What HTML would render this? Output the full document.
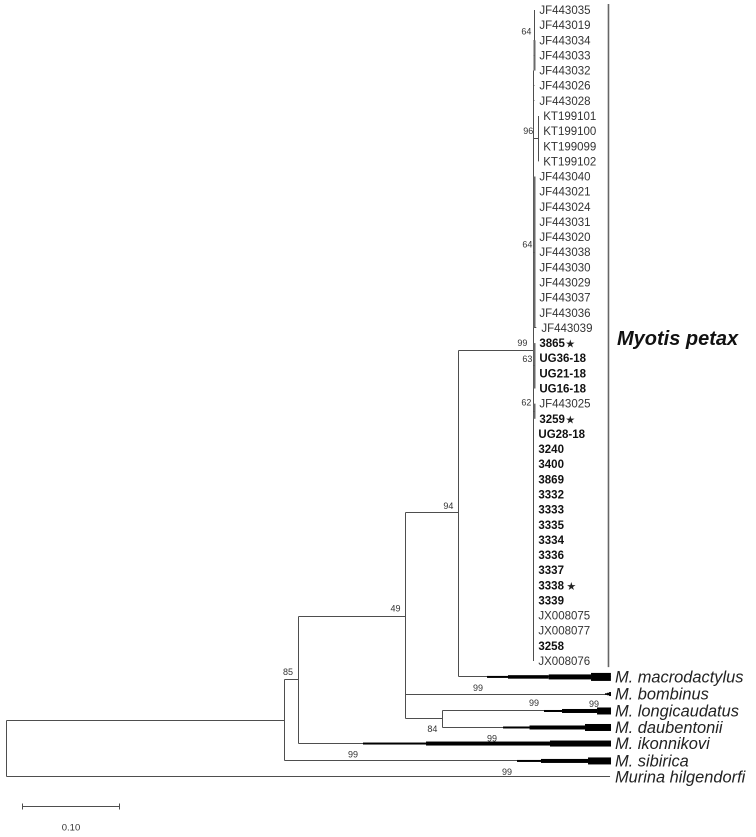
<!DOCTYPE html>
<html lang="en">
<head>
<meta charset="utf-8">
<title>Myotis petax phylogeny</title>
<style>
html,body{margin:0;padding:0;background:#fff;width:756px;height:837px;overflow:hidden}
svg{display:block;font-family:"Liberation Sans",sans-serif;filter:blur(0.35px)}
</style>
</head>
<body>
<svg id="chart" width="756" height="837" viewBox="0 0 756 837" xmlns="http://www.w3.org/2000/svg">
<rect width="756" height="837" fill="#fff"/>
<text x="617" y="345" font-size="20" font-weight="bold" font-style="italic" fill="#111">Myotis petax</text>
</svg>
<script>
const tipLabels = ['JF443035','JF443019','JF443034','JF443033','JF443032','JF443026','JF443028','KT199101','KT199100','KT199099','KT199102','JF443040','JF443021','JF443024','JF443031','JF443020','JF443038','JF443030','JF443029','JF443037','JF443036','JF443039','3865','UG36-18','UG21-18','UG16-18','JF443025','3259','UG28-18','3240','3400','3869','3332','3333','3335','3334','3336','3337','3338','3339','JX008075','JX008077','3258','JX008076'];
const tipBranch = [0,0,0,0,0,0.001,0.001,0,0,0,0,0,0,0,0,0,0,0,0,0,0,0.002,0,0,0,0,0,0,0,0,0,0,0,0,0,0,0,0,0,0,0,0,0,0];
const boldTips = ['3865','UG36-18','UG21-18','UG16-18','3259','UG28-18','3240','3400','3869','3332','3333','3335','3334','3336','3337','3338','3339','3258'];
const starTips = ['3865','3259','3338'];

const nodeNames = ['root','node-a','node-b','node-c','node-e','crown','node-d','macrodactylus','bombinus','longicaudatus','daubentonii','ikonnikovi','sibirica','hilgendorfi'];
const nodeParent = [-1,0,1,2,3,4,3,4,3,6,6,2,1,0];
const nodeBranch = [0,0.2866,0.0144,0.1103,0.0546,0.0773,0.0381,0.1572,0.2119,0.1738,0.1738,0.3222,0.3366,0.6222];
const nodeRow = [46.9,46.9,44.25,40.03,33.22,22.46,46.81,44.05,45.18,46.3,47.39,48.45,49.6,50.66];

const cladeNodes = [7,8,9,10,11,12,13];
const cladeLabels = ['M. macrodactylus','M. bombinus','M. longicaudatus','M. daubentonii','M. ikonnikovi','M. sibirica','Murina hilgendorfi'];
const cladeSteps = [
  [0.4954,0.517,0.559,0.6026],
  [0.617,0.6191,0.6212],
  [0.5541,0.5727,0.6088],
  [0.5119,0.5392,0.5964],
  [0.3675,0.4325,0.5603],
  [0.5263,0.551,0.5995],
  []
];

const subNames = ['clade-64-outer','clade-64-inner','clade-kt','clade-64-lower','clade-3865','clade-jf443025'];
const subFirst = [0,2,7,11,22,26];
const subLast = [4,4,10,21,25,27];
const subBranch = [0.001,0.001,0.005,0.001,0.001,0.001];

const supportValues = [64,96,64,99,63,62,94,49,85,84,99,99,99,99,99,99];
const supportTargets = ['clade-64-inner','clade-kt','clade-64-lower','crown','clade-3865','clade-jf443025','node-e','node-c','node-b','node-d','bombinus','longicaudatus','longicaudatus','ikonnikovi','sibirica','hilgendorfi'];

const scaleLength = 0.10;
const scaleLabel = '0.10';
const petaxBarDepth = 0.6206;
const petaxBarRows = [-0.4,43.4];
const crownSpan = [4,43];

const supportDx = [-8,-10,-7,-11,-7,-8,-10,-10,-10.5,-10,-133,-77,-17,-119,-258,-103];
const supportDy = [-24,-8,-8,-7,-7,-9,-7,-8,-8,10,-6,-8,-7,-5,-6.5,-5];

const svg = document.getElementById('chart');
const NS = 'http://www.w3.org/2000/svg';
const LINE = '#4e4e4e';
const xScale = d => 6.5 + d * 970;
const yScale = r => 10 + r * 15.14;
const snap = v => Math.round(v - 0.5) + 0.5;

function seg(x1, y1, x2, y2, w, c) {
  const el = document.createElementNS(NS, 'line');
  el.setAttribute('x1', x1);
  el.setAttribute('y1', y1);
  el.setAttribute('x2', x2);
  el.setAttribute('y2', y2);
  el.setAttribute('stroke', c || LINE);
  el.setAttribute('stroke-width', w || 1);
  svg.appendChild(el);
  return el;
}
function txt(x, y, s, size, extra) {
  const el = document.createElementNS(NS, 'text');
  el.setAttribute('x', x);
  el.setAttribute('y', y);
  el.setAttribute('font-size', size);
  el.setAttribute('fill', (extra && extra.fill) || '#333');
  if (extra && extra.weight) el.setAttribute('font-weight', extra.weight);
  if (extra && extra.style) el.setAttribute('font-style', extra.style);
  if (extra && extra.anchor) el.setAttribute('text-anchor', extra.anchor);
  el.textContent = s;
  svg.appendChild(el);
  return el;
}

// node depth from cumulative branch lengths
const nodeDepth = [];
nodeBranch.forEach((b, i) => {
  nodeDepth[i] = (nodeParent[i] < 0 ? 0 : nodeDepth[nodeParent[i]]) + b;
});

// backbone branches
nodeNames.forEach((name, i) => {
  const p = nodeParent[i];
  if (p < 0) return;
  const y = snap(yScale(nodeRow[i]));
  const hb = seg(snap(xScale(nodeDepth[p])), y, xScale(nodeDepth[i]), y);
  
  
  const px = snap(xScale(nodeDepth[p]));
  const vb = seg(px, snap(yScale(nodeRow[p])), px, y);
  
  
});

// crown stem line
const crownIdx = nodeNames.indexOf('crown');
const crownD = nodeDepth[crownIdx];
const crownX = snap(xScale(crownD));
const crownLine = seg(crownX, yScale(crownSpan[0]), crownX, yScale(crownSpan[1]));


const crownLink = seg(crownX, snap(yScale(nodeRow[crownIdx])), crownX, yScale(crownSpan[0]));



// subclades
const subAnchor = {};
subNames.forEach((name, i) => {
  const depth = crownD + subBranch[i];
  const x = xScale(depth);
  const y1 = yScale(subFirst[i]);
  const y2 = yScale(subLast[i]);
  const mid = (y1 + y2) / 2;
  const thin = name === 'clade-64-outer' || name === 'clade-kt';
  const v = seg(snap(x), y1, snap(x), y2, thin ? 1 : 2, thin ? LINE : '#6a6a6a');
  
  
  const h = seg(crownX, snap(mid), snap(x), snap(mid));
  
  
  subAnchor[name] = [x, mid];
});

// tips
tipLabels.forEach((label, i) => {
  let base = crownD;
  subNames.forEach((n, s) => {
    if (i >= subFirst[s] && i <= subLast[s]) base = crownD + subBranch[s];
  });
  const tx = xScale(base + tipBranch[i]);
  const y = yScale(i);
  if (tipBranch[i] > 0) {
    const st = seg(xScale(base), snap(y), tx, snap(y));
    
    
  }
  const bold = boldTips.includes(label);
  const t = txt(tx + 5, y + 4, label, 11.5, bold ? {weight: 'bold', fill: '#111'} : {});
  
  
  if (starTips.includes(label)) {
    const star = txt(tx + 5 + (label === '3338' ? 28 : 26), y + 4.5, '★', 11, {fill: '#222'});
    
    
  }
});

// collapsed clade wedges
const stepSizes = [[2,3.5,5,8],[1.5,2.5,4],[2,4,7],[2,4,7],[2,4,6],[2,4,7],[]];
cladeNodes.forEach((n, c) => {
  const end = xScale(nodeDepth[n]);
  const y = yScale(nodeRow[n]);
  const steps = cladeSteps[c];
  const sizes = stepSizes[c];
  steps.forEach((d, s) => {
    const x1 = xScale(d);
    const x2 = s + 1 < steps.length ? xScale(steps[s + 1]) : end;
    const w = document.createElementNS(NS, 'rect');
    w.setAttribute('x', x1);
    w.setAttribute('y', y - sizes[s] / 2);
    w.setAttribute('width', x2 - x1);
    w.setAttribute('height', sizes[s]);
    w.setAttribute('fill', '#000');
    
    
    svg.appendChild(w);
  });
  const t = txt(615, y + 5.5, cladeLabels[c], 16.4, {style: 'italic', fill: '#222'});
  
  
});

// support values
supportValues.forEach((v, i) => {
  const target = supportTargets[i];
  let ax, ay;
  if (subAnchor[target]) {
    ax = subAnchor[target][0];
    ay = subAnchor[target][1];
  } else {
    const k = nodeNames.indexOf(target);
    ax = xScale(nodeDepth[k]);
    ay = yScale(nodeRow[k]);
  }
  const t = txt(ax + supportDx[i], ay + supportDy[i] + 3.2, String(v), 9, {anchor: 'middle', fill: '#333'});
  
  
});

// species-group bar
const bar = seg(xScale(petaxBarDepth), yScale(petaxBarRows[0]), xScale(petaxBarDepth), yScale(petaxBarRows[1]), 1.6, '#666');



// scale bar
const sx0 = 22.5;
const sx1 = sx0 + scaleLength * 970;
const sb = seg(sx0, 806.5, sx1, 806.5);


[sx0, sx1].forEach(x => {
  const tk = seg(x, 803.5, x, 809.5);
  
  
});
const sl = txt((sx0 + sx1) / 2, 830.5, scaleLabel, 9.5, {anchor: 'middle', fill: '#333'});


</script>
</body>
</html>
